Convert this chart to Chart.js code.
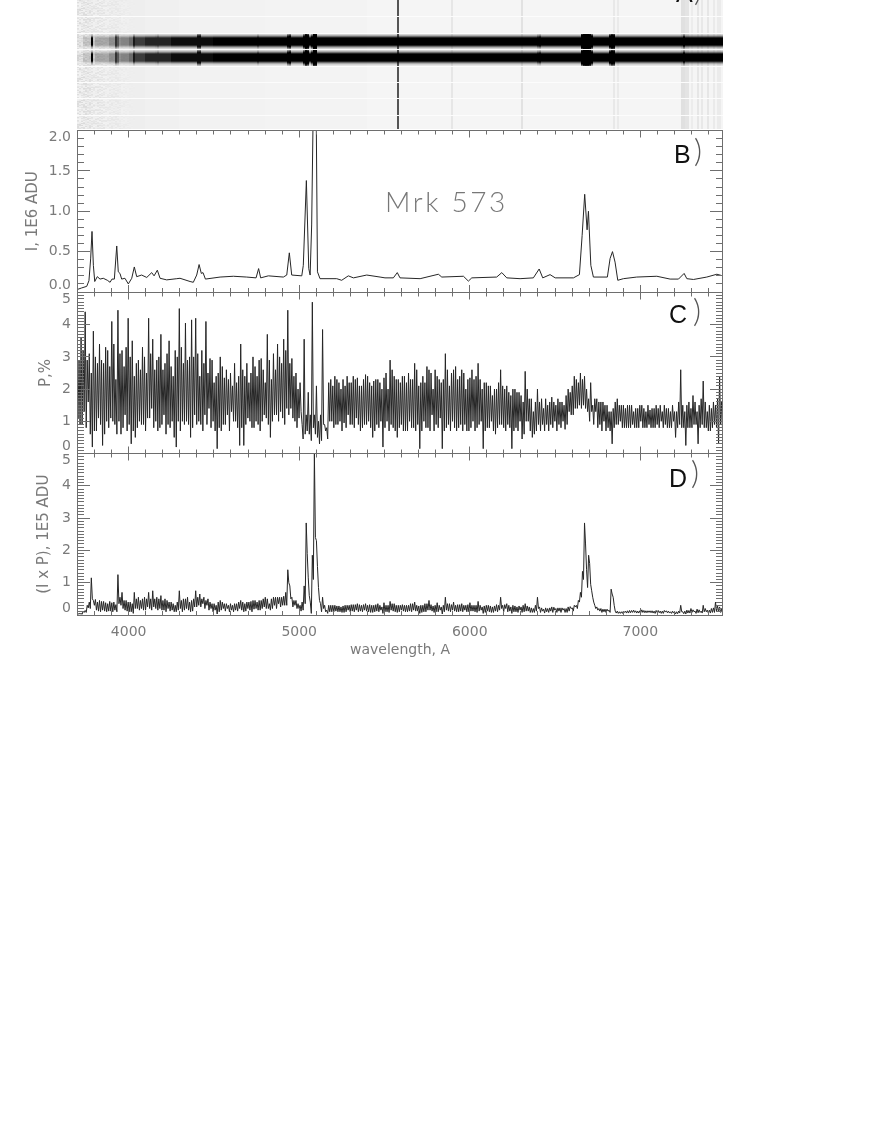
<!DOCTYPE html>
<html>
<head>
<meta charset="utf-8">
<title>Mrk 573</title>
<script src="https://cdn.jsdelivr.net/npm/chart.js@4"></script>
<style>
  html, body { margin: 0; background: #fff; }
  #page { position: relative; width: 872px; height: 1128px; overflow: hidden; }
  canvas { position: absolute; left: 0; }
</style>
</head>
<body>
<div id="page">
  <canvas id="panelA" width="872" height="129" style="top:0"></canvas>
  <canvas id="panelB" width="872" height="182" style="top:120px"></canvas>
  <canvas id="panelC" width="872" height="182" style="top:282px"></canvas>
  <canvas id="panelD" width="872" height="222" style="top:443px"></canvas>
</div>
<script>
// wavelength axis
const waveMin = 3697
const waveMax = 7485
const waveTicks = [4000, 5000, 6000, 7000]
const waveMinorTicks = [3700, 3800, 3900, 4100, 4200, 4300, 4400, 4500, 4600, 4700, 4800, 4900,
  5100, 5200, 5300, 5400, 5500, 5600, 5700, 5800, 5900, 6100, 6200, 6300, 6400, 6500, 6600, 6700,
  6800, 6900, 7100, 7200, 7300, 7400]

// panel B, intensity
const fluxTicks = [0, 0.5, 1, 1.5, 2]
const fluxMinorTicks = [0.1, 0.2, 0.3, 0.4, 0.6, 0.7, 0.8, 0.9, 1.1, 1.2, 1.3, 1.4, 1.6, 1.7, 1.8, 1.9]
const fluxWave = [3697, 3724, 3754, 3767, 3777, 3785, 3793, 3801, 3816, 3832, 3851, 3875, 3891, 3902,
  3916, 3930, 3939, 3949, 3959, 3978, 3998, 4018, 4033, 4047, 4076, 4106, 4135, 4149, 4168, 4184,
  4223, 4282, 4301, 4360, 4379, 4399, 4413, 4426, 4436, 4450, 4536, 4614, 4692, 4747, 4762, 4774,
  4819, 4907, 4927, 4942, 4956, 5015, 5024, 5042, 5056, 5064, 5073, 5083, 5091, 5099, 5107, 5122,
  5220, 5249, 5288, 5318, 5396, 5474, 5503, 5552, 5575, 5591, 5709, 5816, 5836, 5963, 5992, 6012,
  6158, 6188, 6217, 6295, 6373, 6407, 6428, 6471, 6501, 6608, 6643, 6659, 6674, 6688, 6696, 6710,
  6725, 6807, 6823, 6837, 6852, 6868, 6901, 6979, 7097, 7175, 7224, 7257, 7273, 7312, 7390, 7449, 7492]
const fluxValues = [0.03, 0.05, 0.07, 0.14, 0.41, 0.75, 0.33, 0.13, 0.19, 0.16, 0.17, 0.145, 0.12, 0.16,
  0.16, 0.57, 0.25, 0.23, 0.16, 0.17, 0.10, 0.17, 0.31, 0.19, 0.21, 0.18, 0.24, 0.20, 0.27, 0.17,
  0.15, 0.165, 0.17, 0.13, 0.12, 0.21, 0.34, 0.23, 0.24, 0.16, 0.185, 0.195, 0.185, 0.175, 0.29, 0.175,
  0.20, 0.185, 0.21, 0.485, 0.21, 0.20, 0.33, 1.38, 0.29, 0.21, 0.83, 2.4, 3.4, 2.4, 0.25, 0.165,
  0.165, 0.145, 0.20, 0.175, 0.21, 0.185, 0.175, 0.175, 0.24, 0.175, 0.165, 0.22, 0.185, 0.195, 0.135, 0.175,
  0.185, 0.24, 0.175, 0.165, 0.175, 0.285, 0.175, 0.215, 0.175, 0.175, 0.215, 0.70, 1.21, 0.77, 1.0, 0.33,
  0.185, 0.185, 0.415, 0.5, 0.37, 0.145, 0.165, 0.185, 0.195, 0.16, 0.16, 0.23, 0.165, 0.155, 0.185, 0.22, 0.195]

// panels C and D share one wavelength grid, 6 A per sample
const gridStart = 3697
const gridStep = 6
const polTicks = [0, 1, 2, 3, 4, 5]
const polMinorTicks = Array.from({ length: 51 }, (_, i) => i / 10).filter(v => v % 1 !== 0)

const polValues = [
  2.1, 0.9, 3.6, 1.3, 4.4, 1.6, 3.1, 0.2, 3.8, 0.7, 1.1, 3.4, 0.25, 2.8, 1.0, 3.2, 1.1, 4.1, 0.9, 2.3,
  4.45, 0.6, 3.2, 1.2, 0.7, 4.2, 0.3, 3.5, 0.5, 2.8, 1.0, 2.6, 0.9, 3.0, 1.1, 4.2, 1.4, 3.55, 1.0, 2.9,
  0.8, 3.7, 1.2, 2.8, 0.9, 3.5, 1.0, 2.4, 0.2, 3.0, 4.5, 1.0, 2.8, 4.05, 0.9, 3.0, 4.15, 1.2, 4.2, 1.0,
  2.4, 3.2, 1.2, 4.1, 1.4, 2.95, 1.0, 2.2, 0.15, 2.5, 3.0, 0.9, 2.35, 1.2, 2.3, 1.3, 2.1, 1.0, 2.2, 0.25,
  3.4, 0.25, 2.4, 1.1, 2.2, 0.8, 3.0, 1.0, 2.4, 0.7, 2.95, 1.2, 2.2, 3.7, 0.5, 2.3, 1.2, 2.6, 3.4, 1.3,
  2.8, 3.55, 1.4, 4.45, 1.4, 2.95, 1.0, 2.5, 1.1, 1.3, 0.45, 3.55, 0.7, 1.9, 0.4, 4.7, 1.2, 2.1, 0.3, 1.2,
  3.85, 0.9, 0.45, 2.2, 1.0, 2.1, 0.9, 2.3, 1.0, 2.0, 0.95, 2.1, 1.2, 2.2, 0.9, 2.4, 1.1, 2.35, 0.7, 2.1,
  0.9, 2.45, 1.0, 2.2, 0.5, 2.25, 0.9, 2.3, 1.0, 0.2, 2.35, 1.0, 2.0, 2.9, 0.8, 2.4, 0.5, 2.3, 0.9, 2.4,
  0.7, 2.2, 1.0, 2.3, 0.8, 2.8, 0.9, 0.15, 2.2, 1.0, 2.2, 0.8, 2.6, 1.2, 2.0, 0.9, 2.4, 1.1, 0.15, 2.3,
  3.1, 0.9, 2.1, 1.0, 2.6, 0.7, 2.3, 0.9, 2.6, 0.9, 2.0, 0.7, 2.35, 1.0, 2.3, 0.8, 2.8, 1.0, 0.15, 2.2,
  0.8, 2.1, 1.0, 1.8, 0.6, 2.0, 0.9, 2.6, 0.8, 2.0, 0.9, 1.9, 0.15, 2.0, 0.8, 1.9, 1.0, 0.45, 1.6, 2.55,
  1.0, 1.7, 0.5, 1.3, 0.7, 2.0, 1.6, 0.9, 1.4, 0.9, 1.5, 0.9, 1.75, 1.0, 1.5, 0.9, 1.6, 1.0, 0.75, 1.8,
  1.3, 1.9, 1.2, 2.4, 1.4, 2.2, 2.5, 1.5, 2.4, 1.3, 1.7, 2.2, 1.5, 1.3, 1.7, 0.9, 1.6, 1.0, 1.5, 0.8,
  1.3, 0.3, 1.4, 0.9, 1.7, 1.0, 1.5, 0.8, 1.4, 0.8, 1.5, 0.9, 1.3, 0.8, 1.4, 1.0, 1.5, 0.8, 1.3, 0.9,
  1.35, 0.8, 1.4, 0.9, 1.4, 1.0, 1.3, 0.9, 1.4, 0.8, 1.3, 1.0, 0.5, 1.3, 0.9, 2.6, 0.8, 0.25, 1.5, 0.8,
  1.4, 1.8, 0.9, 0.3, 1.5, 0.9, 2.25, 0.8, 1.3, 0.7, 1.4, 0.9, 1.5, 0.3, 2.4, 0.6, 1.6
]
// the other sample of each 12 A step
const polBetween = [
  1.1, 2.9, 0.9, 3.2, 0.8, 2.9, 0.6, 2.5, 0.7, 3.0, 2.8, 0.9, 2.9, 0.6, 3.3, 0.8, 2.7, 1.0, 3.4, 0.6,
  1.0, 3.1, 0.8, 2.7, 3.3, 0.9, 3.0, 0.7, 2.4, 0.8, 2.9, 0.9, 3.3, 0.7, 2.5, 1.1, 3.1, 0.8, 2.6, 0.7,
  3.0, 0.9, 2.6, 0.6, 3.1, 0.8, 2.7, 0.5, 3.2, 1.0, 0.7, 3.3, 0.9, 1.0, 2.9, 0.5, 0.8, 3.0, 0.9, 3.1,
  0.9, 0.7, 2.8, 0.9, 2.5, 0.8, 2.9, 0.7, 2.4, 0.8, 0.7, 2.7, 0.9, 2.6, 0.7, 2.5, 1.0, 2.8, 0.8, 2.4,
  0.8, 2.6, 0.9, 2.8, 1.0, 2.5, 0.8, 2.7, 0.9, 2.9, 1.0, 2.6, 1.1, 0.9, 2.9, 1.0, 3.1, 1.2, 1.0, 3.0,
  1.1, 0.9, 3.2, 1.2, 2.8, 1.1, 2.4, 0.8, 2.0, 2.2, 0.9, 0.6, 1.2, 0.6, 1.2, 0.8, 0.6, 0.5, 1.0, 0.4,
  0.9, 0.7, 0.8, 1.0, 2.3, 0.8, 2.4, 0.9, 2.2, 0.7, 2.3, 0.8, 2.4, 0.9, 2.2, 0.8, 2.3, 0.9, 2.1, 0.8,
  2.3, 0.9, 2.4, 0.8, 2.1, 0.7, 2.3, 0.8, 2.2, 2.0, 0.8, 2.5, 0.7, 0.9, 2.6, 0.7, 2.3, 0.8, 2.2, 0.7,
  2.4, 0.7, 2.5, 0.8, 2.3, 0.7, 2.6, 2.1, 0.7, 2.4, 0.8, 2.7, 0.7, 2.5, 0.7, 2.6, 0.8, 2.3, 2.2, 0.7,
  0.8, 2.6, 0.7, 2.5, 0.8, 2.7, 0.8, 2.4, 0.7, 2.5, 0.7, 2.3, 0.8, 2.6, 0.7, 2.4, 0.9, 2.3, 2.0, 0.7,
  2.2, 0.8, 2.1, 0.7, 2.0, 0.8, 2.2, 0.9, 2.1, 0.7, 2.1, 0.8, 1.8, 0.7, 2.0, 0.7, 1.9, 1.8, 0.6, 1.0,
  2.0, 0.7, 1.7, 0.6, 1.6, 0.9, 0.7, 1.7, 0.7, 1.7, 0.7, 1.6, 0.8, 1.6, 0.7, 1.7, 0.8, 1.6, 1.5, 0.9,
  2.0, 1.2, 2.1, 1.4, 2.3, 1.5, 1.4, 2.3, 1.4, 2.0, 1.0, 1.3, 0.9, 1.7, 0.8, 1.6, 0.7, 1.6, 0.7, 1.5,
  0.7, 1.3, 0.8, 1.6, 0.9, 1.5, 0.8, 1.5, 0.8, 1.5, 0.8, 1.5, 0.8, 1.4, 0.8, 1.5, 0.8, 1.4, 0.8, 1.5,
  0.8, 1.4, 0.8, 1.5, 0.8, 1.5, 0.8, 1.5, 0.8, 1.4, 0.8, 1.5, 1.3, 0.8, 1.6, 0.8, 1.5, 1.3, 0.8, 1.6,
  0.8, 0.9, 1.6, 1.3, 0.8, 1.7, 0.8, 1.6, 0.7, 1.5, 0.8, 1.6, 0.8, 1.7, 0.9, 1.6
]

const polFluxValues = [
  0.02, 0.03, 0.05, 0.08, 0.14, 0.22, 0.4, 1.15, 0.3, 0.48, 0.12, 0.45, 0.15, 0.42, 0.1, 0.35, 0.12, 0.38, 0.15, 0.32,
  1.25, 0.3, 0.7, 0.15, 0.45, 0.1, 0.4, 0.05, 0.7, 0.2, 0.55, 0.2, 0.15, 0.55, 0.25, 0.7, 0.15, 0.75, 0.2, 0.55,
  0.2, 0.6, 0.15, 0.5, 0.2, 0.4, 0.15, 0.35, 0.1, 0.15, 0.75, 0.1, 0.5, 0.2, 0.55, 0.1, 0.45, 0.25, 0.75, 0.3,
  0.65, 0.35, 0.55, 0.3, 0.5, 0.2, 0.35, 0.15, 0.03, 0.4, 0.45, 0.2, 0.35, 0.2, 0.3, 0.15, 0.3, 0.15, 0.35, 0.2,
  0.45, 0.1, 0.35, 0.2, 0.4, 0.1, 0.45, 0.2, 0.4, 0.15, 0.45, 0.25, 0.55, 0.2, 0.35, 0.5, 0.3, 0.55, 0.35, 0.55,
  0.3, 0.58, 0.3, 1.4, 0.9, 0.55, 0.3, 0.45, 0.2, 0.12, 0.15, 0.9, 2.85, 1.15, 0.05, 1.85, 5.0, 2.3, 0.85, 0.1,
  0.55, 0.1, 0.15, 0.3, 0.1, 0.3, 0.12, 0.28, 0.1, 0.25, 0.08, 0.3, 0.15, 0.3, 0.12, 0.32, 0.15, 0.35, 0.12, 0.3,
  0.15, 0.35, 0.1, 0.32, 0.08, 0.3, 0.12, 0.35, 0.15, 0.05, 0.38, 0.1, 0.3, 0.42, 0.12, 0.35, 0.08, 0.3, 0.15, 0.32,
  0.1, 0.3, 0.12, 0.35, 0.15, 0.4, 0.12, 0.05, 0.3, 0.1, 0.35, 0.15, 0.45, 0.12, 0.28, 0.1, 0.38, 0.15, 0.03, 0.3,
  0.55, 0.12, 0.35, 0.15, 0.4, 0.1, 0.32, 0.12, 0.35, 0.15, 0.3, 0.1, 0.38, 0.12, 0.3, 0.08, 0.42, 0.15, 0.05, 0.28,
  0.12, 0.3, 0.08, 0.25, 0.12, 0.32, 0.15, 0.55, 0.3, 0.2, 0.35, 0.12, 0.05, 0.3, 0.1, 0.25, 0.15, 0.08, 0.3, 0.35,
  0.12, 0.25, 0.08, 0.2, 0.3, 0.55, 0.25, 0.12, 0.18, 0.1, 0.2, 0.12, 0.25, 0.15, 0.2, 0.12, 0.22, 0.15, 0.08, 0.2,
  0.25, 0.2, 0.22, 0.25, 0.3, 0.45, 0.7, 1.35, 2.85, 0.85, 1.85, 0.95, 0.55, 0.3, 0.25, 0.12, 0.2, 0.1, 0.18, 0.12,
  0.15, 0.8, 0.55, 0.12, 0.12, 0.05, 0.1, 0.08, 0.12, 0.06, 0.14, 0.08, 0.15, 0.06, 0.12, 0.08, 0.16, 0.07, 0.13, 0.08,
  0.13, 0.06, 0.12, 0.08, 0.14, 0.05, 0.12, 0.09, 0.13, 0.06, 0.1, 0.12, 0.03, 0.1, 0.12, 0.3, 0.1, 0.03, 0.15, 0.06,
  0.2, 0.1, 0.05, 0.18, 0.08, 0.12, 0.3, 0.1, 0.15, 0.06, 0.2, 0.08, 0.4, 0.1, 0.25, 0.05, 0.3
]
const polFluxBetween = [
  0.04, 0.05, 0.02, 0.12, 0.08, 0.3, 0.2, 0.5, 0.45, 0.15, 0.4, 0.1, 0.42, 0.12, 0.38, 0.12, 0.42, 0.1, 0.4, 0.1,
  0.35, 0.55, 0.2, 0.45, 0.12, 0.4, 0.1, 0.35, 0.2, 0.5, 0.15, 0.45, 0.5, 0.15, 0.5, 0.2, 0.5, 0.25, 0.5, 0.15,
  0.5, 0.15, 0.45, 0.1, 0.45, 0.12, 0.4, 0.1, 0.3, 0.4, 0.2, 0.45, 0.15, 0.5, 0.15, 0.4, 0.12, 0.5, 0.25, 0.55,
  0.25, 0.5, 0.2, 0.45, 0.15, 0.4, 0.1, 0.35, 0.3, 0.1, 0.15, 0.4, 0.12, 0.35, 0.1, 0.35, 0.1, 0.35, 0.12, 0.4,
  0.15, 0.4, 0.12, 0.4, 0.15, 0.42, 0.18, 0.45, 0.15, 0.45, 0.2, 0.5, 0.2, 0.5, 0.15, 0.2, 0.55, 0.2, 0.55, 0.25,
  0.55, 0.3, 0.7, 1.0, 0.5, 0.25, 0.45, 0.2, 0.35, 0.3, 0.4, 0.35, 1.9, 0.6, 0.4, 1.1, 2.4, 1.5, 0.45, 0.35,
  0.2, 0.3, 0.05, 0.1, 0.3, 0.1, 0.3, 0.1, 0.28, 0.08, 0.28, 0.1, 0.3, 0.1, 0.32, 0.1, 0.32, 0.1, 0.32, 0.1,
  0.32, 0.12, 0.3, 0.08, 0.3, 0.1, 0.32, 0.1, 0.3, 0.25, 0.1, 0.3, 0.08, 0.15, 0.35, 0.1, 0.3, 0.1, 0.3, 0.12,
  0.3, 0.1, 0.3, 0.1, 0.35, 0.12, 0.3, 0.28, 0.08, 0.3, 0.1, 0.35, 0.15, 0.32, 0.08, 0.3, 0.1, 0.3, 0.25, 0.1,
  0.15, 0.35, 0.1, 0.32, 0.12, 0.3, 0.1, 0.32, 0.1, 0.3, 0.1, 0.32, 0.12, 0.3, 0.1, 0.3, 0.12, 0.3, 0.25, 0.08,
  0.3, 0.1, 0.28, 0.08, 0.28, 0.1, 0.3, 0.2, 0.1, 0.32, 0.1, 0.3, 0.25, 0.1, 0.28, 0.08, 0.28, 0.25, 0.1, 0.12,
  0.28, 0.08, 0.22, 0.08, 0.12, 0.2, 0.08, 0.22, 0.06, 0.22, 0.08, 0.22, 0.08, 0.24, 0.08, 0.22, 0.08, 0.22, 0.2, 0.08,
  0.12, 0.26, 0.12, 0.3, 0.2, 0.4, 0.55, 1.1, 2.2, 1.4, 1.6, 0.75, 0.4, 0.2, 0.15, 0.2, 0.08, 0.18, 0.08, 0.18,
  0.08, 0.65, 0.3, 0.06, 0.05, 0.1, 0.05, 0.12, 0.06, 0.13, 0.07, 0.14, 0.08, 0.13, 0.06, 0.13, 0.08, 0.14, 0.07, 0.13,
  0.07, 0.13, 0.05, 0.14, 0.07, 0.12, 0.05, 0.14, 0.07, 0.12, 0.05, 0.06, 0.1, 0.04, 0.06, 0.1, 0.04, 0.12, 0.06, 0.14,
  0.08, 0.16, 0.12, 0.07, 0.16, 0.06, 0.1, 0.2, 0.06, 0.15, 0.08, 0.22, 0.12, 0.28, 0.08, 0.18
]

// panel A, the 2D frame: sky lines, emission lines and continuum read from the strip
const frameSeparators = [16, 33, 49, 66, 82, 98, 115]
const frameBands = [41, 57]
const bandProfile = [1, 1, 1, 1, 0.85, 0.55, 0.3, 0.14, 0.06, 0]
const contWave = [3697, 3735, 3800, 3880, 3950, 4000, 4040, 4100, 4250, 4500]
const contLevel = [0.05, 0.16, 0.3, 0.4, 0.45, 0.55, 0.75, 0.85, 0.95, 1]
const backWave = [3697, 3780, 3850, 3950, 4100, 4300, 4800, 5400]
const backGray = [232, 234, 236, 238, 240, 242, 243, 245]
const speckle = [0, -9, 6, -14, 3, 10, -5, -11, 8, 2, -7, 12, -3, 5, -12, 9, 1, -6, 11, -2, -10, 7, 4]
const lineWave = [3785, 3930, 4033, 4168, 4413, 4762, 4942, 5042, 5092, 6407, 6685, 6837, 7257]
const lineHalf = [10, 10, 8, 8, 16, 8, 12, 16, 18, 8, 36, 20, 8]
const lineReach = [0, 1, 0.5, 0.5, 2, 0.5, 2, 3.5, 4, 1, 4.5, 3, 1]
const skyWave = [5577, 5893, 6305, 6845, 6870, 7250, 7275, 7300, 7340, 7360, 7400, 7430, 7460]
const skyGray = [85, 230, 226, 232, 234, 224, 228, 236, 230, 232, 230, 234, 235]

const axisGray = '#6e6e6e'
const labelGray = '#7a7a7a'
const labelFont = { family: '"DejaVu Sans"', size: 14, lineHeight: 1 }

// value of the last step at or below w
function stepLookup(wave, values, w) {
  let v = values[0]
  wave.forEach((lw, i) => { if (lw <= w) v = values[i] })
  return v
}

function frameCell(col, row, colCount) {
  if (frameSeparators.includes(row)) return 252
  const w = waveMin + (col + 0.5) * (waveMax - waveMin) / colCount
  let gray = stepLookup(backWave, backGray, w)
  if (col < 30) gray += speckle[(col * col * 3 + row * row * 5 + col * row) % speckle.length] * (1 - col / 30)
  skyWave.forEach((sw, i) => { if (Math.abs(w - sw) < 8) gray = Math.min(gray, skyGray[i]) })

  if (row < 34 || row > 65) return Math.round(gray)
  let d = Math.min(...frameBands.map(b => Math.abs(row - b)))
  let level = stepLookup(contWave, contLevel, w)
  lineWave.forEach((lw, i) => {
    const q = Math.abs(w - lw) / lineHalf[i]
    if (q < 1) {
      level = Math.max(level, 1 - q * 0.5)
      d = Math.min(d, Math.max(0, d - lineReach[i] * Math.sqrt(1 - q * q)))
    }
  })
  const low = Math.floor(d)
  const frac = d - low
  const dark = ((bandProfile[low] ?? 0) * (1 - frac) + (bandProfile[low + 1] ?? 0) * frac) * level
  return Math.round(gray * (1 - dark))
}

// inward ticks on all four sides plus the frame, IDL style
const insideTicks = {
  id: 'insideTicks',
  afterDatasetsDraw(chart, _args, opts) {
    if (!opts.yMajor) return
    const { ctx, chartArea: a, scales: { x, y } } = chart
    ctx.save()
    ctx.strokeStyle = axisGray
    ctx.lineWidth = 1
    ctx.beginPath()
    const yMark = (v, len) => {
      const p = Math.round(y.getPixelForValue(v) - 0.5) + 0.5
      ctx.moveTo(a.left, p); ctx.lineTo(a.left + len, p)
      ctx.moveTo(a.right, p); ctx.lineTo(a.right - len, p)
    }
    const xMark = (v, len) => {
      const p = Math.round(x.getPixelForValue(v) - 0.5) + 0.5
      ctx.moveTo(p, a.top); ctx.lineTo(p, a.top + len)
      ctx.moveTo(p, a.bottom); ctx.lineTo(p, a.bottom - len)
    }
    opts.yMajor.forEach(v => yMark(v, 13))
    opts.yMinor.forEach(v => yMark(v, 7))
    waveTicks.forEach(v => xMark(v, 7))
    waveMinorTicks.forEach(v => xMark(v, 4))
    ctx.rect(a.left + 0.5, Math.round(a.top - 0.5) + 0.5, a.width - 1, Math.round(a.height))
    ctx.stroke()
    ctx.restore()
  }
}

// panel letters and the object name
const panelNotes = {
  id: 'panelNotes',
  afterDraw(chart, _args, opts) {
    const { ctx } = chart
    ;(opts.items || []).forEach(n => {
      ctx.save()
      ctx.font = n.font
      ctx.fillStyle = n.color
      if (n.spacing) ctx.letterSpacing = n.spacing
      ctx.fillText(n.text, n.x, n.y)
      ctx.restore()
    })
  }
}
Chart.register(insideTicks, panelNotes)

const letterFont = '25px "Liberation Sans"'
const braceFont = '300 31px Lato'

function panelLetter(letter, lx, ly, bx, by) {
  return [
    { text: letter, x: lx, y: ly, font: letterFont, color: '#111' },
    { text: ')', x: bx, y: by, font: braceFont, color: '#555' }
  ]
}

function linePanel(id, canvasTop, top, bottom, wave, values, yMax, cfg) {
  const canvas = document.getElementById(id)
  const padTop = top - canvasTop
  const xHeight = canvas.height - padTop - (bottom - top)
  new Chart(canvas, {
    type: 'line',
    data: {
      datasets: [{
        data: wave.map((w, i) => ({ x: w, y: values[i] })),
        borderColor: '#262626',
        borderWidth: 1,
        pointRadius: 0,
        tension: 0
      }]
    },
    options: {
      responsive: false,
      animation: false,
      events: [],
      layout: { autoPadding: false, padding: { top: padTop, right: 149, left: 0, bottom: 0 } },
      scales: {
        x: {
          type: 'linear',
          min: waveMin,
          max: waveMax,
          grid: { display: false, drawTicks: false },
          border: { display: false },
          afterBuildTicks: s => { s.ticks = waveTicks.map(v => ({ value: v })) },
          afterFit: s => { s.height = xHeight; s.paddingLeft = 0; s.paddingRight = 0 },
          ticks: {
            display: !!cfg.xTitle,
            color: labelGray,
            font: labelFont,
            padding: 10,
            autoSkip: false,
            maxRotation: 0,
            callback: v => String(v)
          },
          title: cfg.xTitle
            ? { display: true, text: cfg.xTitle, color: labelGray, font: { family: '"DejaVu Sans"', size: 14 }, padding: { top: 0, bottom: 6 } }
            : { display: false }
        },
        y: {
          min: 0,
          max: yMax,
          grid: { display: false, drawTicks: false },
          border: { display: false },
          afterBuildTicks: s => { s.ticks = cfg.yTicks.map(v => ({ value: v })) },
          afterFit: s => { s.width = 77; s.paddingTop = 0; s.paddingBottom = 0 },
          ticks: {
            color: labelGray,
            font: labelFont,
            padding: 6,
            autoSkip: false,
            callback: v => {
              const text = cfg.yFormat(v)
              // first and last label sit inside the panel, as in the original
              if (v === yMax) return ['', text]
              if (v === 0) return [text, '']
              return text
            }
          },
          title: { display: true, text: cfg.yTitle, color: labelGray, font: { family: '"DejaVu Sans"', size: 15 }, padding: { top: cfg.titleLeft, bottom: 0 } }
        }
      },
      plugins: {
        legend: { display: false },
        tooltip: { enabled: false },
        insideTicks: { yMajor: cfg.yTicks, yMinor: cfg.yMinor },
        panelNotes: { items: cfg.notes }
      }
    }
  })
}

// panel A as stacked one pixel cells
function framePanel() {
  const colCount = 323
  const rowCount = 129
  const labels = Array.from({ length: colCount }, (_, c) => Math.round(waveMin + (c + 0.5) * (waveMax - waveMin) / colCount))
  const datasets = Array.from({ length: rowCount }, (_, r) => ({
    data: labels.map(() => 1),
    backgroundColor: labels.map((_w, c) => {
      const g = frameCell(c, r, colCount)
      return `rgb(${g},${g},${g})`
    }),
    borderWidth: 0,
    inflateAmount: 0,
    barPercentage: 1,
    categoryPercentage: 1
  }))
  new Chart(document.getElementById('panelA'), {
    type: 'bar',
    data: { labels, datasets },
    options: {
      responsive: false,
      animation: false,
      events: [],
      layout: { autoPadding: false, padding: { left: 77, right: 149, top: 0, bottom: 0 } },
      scales: {
        x: { display: false, stacked: true },
        y: { display: false, stacked: true, min: 0, max: rowCount, reverse: true }
      },
      plugins: {
        legend: { display: false },
        tooltip: { enabled: false },
        panelNotes: { items: panelLetter('A', 676, 2, 694, 1) }
      }
    }
  })
}

// each 12 A step holds two samples, upper one first, so the trace zigzags per pixel
const weave = (a, b) => a.flatMap((v, i) => (i < b.length ? [Math.max(v, b[i]), Math.min(v, b[i])] : [v]))
const polSeries = weave(polValues, polBetween)
const polFluxSeries = weave(polFluxValues, polFluxBetween)
const gridWave = polSeries.map((_, i) => gridStart + i * gridStep)

framePanel()

linePanel('panelB', 120, 130.5, 292, fluxWave, fluxValues, 2, {
  yTicks: fluxTicks,
  yMinor: fluxMinorTicks,
  yFormat: v => v.toFixed(1),
  yTitle: 'I, 1E6 ADU',
  titleLeft: 24,
  notes: [
    { text: 'Mrk 573', x: 385, y: 92, font: '300 28px Lato', color: '#777', spacing: '2.6px' },
    ...panelLetter('B', 674, 43, 694, 42)
  ]
})

linePanel('panelC', 282, 292.5, 453.5, gridWave, polSeries, 5, {
  yTicks: polTicks,
  yMinor: polMinorTicks,
  yFormat: v => String(v),
  yTitle: 'P,%',
  titleLeft: 37,
  notes: panelLetter('C', 669, 41, 693, 40)
})

linePanel('panelD', 443, 453.5, 615, gridWave, polFluxSeries, 5, {
  yTicks: polTicks,
  yMinor: polMinorTicks,
  yFormat: v => String(v),
  yTitle: '(I x P), 1E5 ADU',
  titleLeft: 35,
  xTitle: 'wavelength, A',
  notes: panelLetter('D', 669, 44, 691, 41)
})
</script>
</body>
</html>
